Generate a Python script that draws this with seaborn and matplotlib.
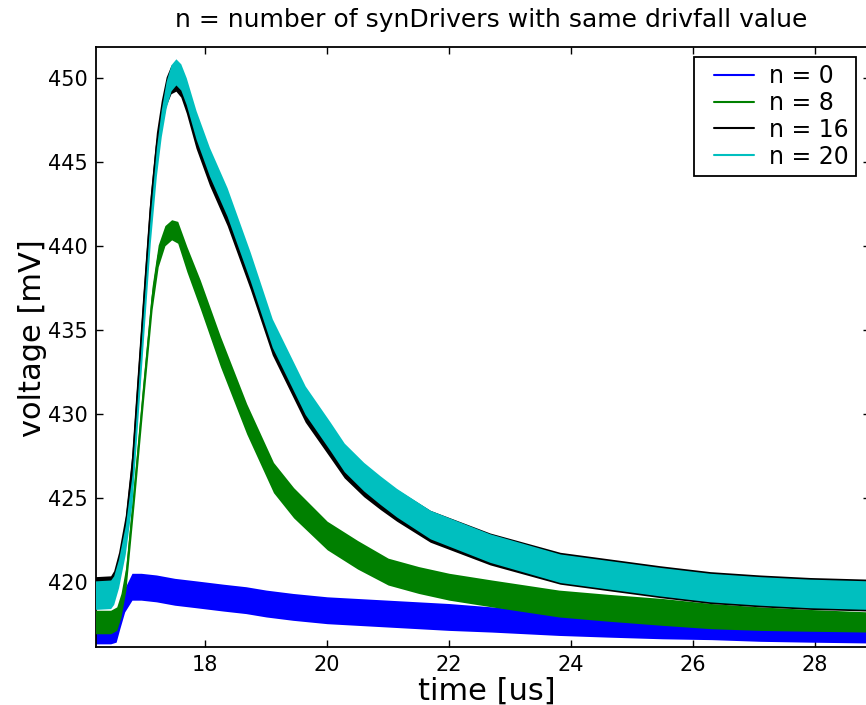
import matplotlib
matplotlib.use("Agg")
import matplotlib.pyplot as plt
from matplotlib.lines import Line2D
from matplotlib.legend_handler import HandlerLine2D
import numpy as np
import pandas as pd
import seaborn as sns

# ---------------- data ----------------
labels = ["n = 0", "n = 8", "n = 16", "n = 20"]
colors = ["#0000ff", "#008000", "#000000", "#00bfbf"]

# n = 0 (blue)
t_n0 = [16.2, 16.45, 16.54, 16.6, 16.68, 16.8, 16.95, 17.2, 17.5, 17.85, 18.3, 18.67,
        19.0, 19.44, 20.0, 20.5, 21.0, 21.5, 22.0, 22.7, 23.8, 24.6, 25.5, 26.3,
        27.1, 27.9, 28.9]
v_n0 = [416.85, 416.85, 416.95, 417.8, 418.9, 419.7, 419.7, 419.6, 419.4, 419.25,
        419.05, 418.9, 418.7, 418.5, 418.3, 418.2, 418.1, 418.0, 417.9, 417.75,
        417.5, 417.4, 417.3, 417.25, 417.15, 417.1, 417.05]
w_n0 = [0.55, 0.55, 0.55, 0.6, 0.7, 0.8, 0.8, 0.8, 0.8, 0.8, 0.8, 0.8,
        0.8, 0.8, 0.8, 0.8, 0.8, 0.8, 0.8, 0.75, 0.7, 0.7, 0.7, 0.7,
        0.7, 0.7, 0.7]

# n = 8 (green)
t_n8 = [16.2, 16.45, 16.55, 16.62, 16.7, 16.74, 16.85, 16.99, 17.13, 17.23, 17.34,
        17.45, 17.55, 17.7, 17.92, 18.25, 18.68, 19.12, 19.45, 20.0, 20.5, 21.0,
        21.5, 22.0, 22.7, 23.8, 24.6, 25.5, 26.3, 27.1, 27.9, 28.9]
v_n8 = [417.6, 417.6, 417.8, 418.6, 420.2, 421.7, 425.9, 431.5, 436.9, 439.4, 440.6,
        440.95, 440.8, 439.2, 437.1, 433.7, 429.7, 426.2, 424.7, 422.75, 421.6, 420.6,
        420.1, 419.7, 419.3, 418.7, 418.45, 418.2, 417.95, 417.8, 417.7, 417.6]
w_n8 = [0.7, 0.7, 0.7, 0.7, 0.7, 0.7, 0.7, 0.7, 0.7, 0.65, 0.6,
        0.6, 0.65, 0.75, 0.85, 0.9, 0.9, 0.9, 0.9, 0.85, 0.85, 0.8,
        0.8, 0.8, 0.8, 0.8, 0.8, 0.8, 0.75, 0.7, 0.65, 0.6]

# n = 16 (black)
t_n16 = [16.2, 16.45, 16.5, 16.58, 16.69, 16.8, 16.9, 17.0, 17.1, 17.2, 17.28, 17.36,
         17.44, 17.52, 17.6, 17.69, 17.85, 18.07, 18.36, 18.74, 19.1, 19.64, 20.05,
         20.28, 20.6, 20.87, 21.14, 21.69, 22.67, 23.82, 24.64, 25.46, 26.28, 27.1,
         27.92, 28.9]
v_n16 = [419.45, 419.5, 419.8, 420.9, 423.1, 426.8, 432.0, 437.2, 442.2, 445.9, 447.8,
         449.2, 449.9, 450.05, 449.7, 448.8, 446.7, 444.5, 442.1, 438.3, 434.4, 430.4,
         428.3, 427.1, 426.0, 425.25, 424.55, 423.3, 421.95, 420.8, 420.4, 420.0,
         419.65, 419.45, 419.3, 419.2]
w_n16 = [0.85, 0.85, 0.85, 0.85, 0.85, 0.85, 0.85, 0.85, 0.85, 0.85, 0.85, 0.85,
         0.85, 0.85, 0.85, 0.9, 0.9, 0.9, 0.9, 0.9, 0.9, 0.9, 0.92,
         0.92, 0.94, 0.95, 0.95, 0.95, 0.95, 0.95, 0.95, 0.95, 0.95, 0.95,
         0.95, 0.95]

# n = 20 (cyan)
t_n20 = [16.2, 16.45, 16.5, 16.58, 16.69, 16.8, 16.9, 17.0, 17.1, 17.2, 17.28, 17.36,
         17.44, 17.52, 17.6, 17.69, 17.85, 18.07, 18.36, 18.74, 19.1, 19.64, 20.05,
         20.28, 20.6, 20.87, 21.14, 21.69, 22.67, 23.82, 24.64, 25.46, 26.28, 27.1,
         27.92, 28.9]
v_n20 = [419.2, 419.25, 419.5, 420.5, 422.5, 425.5, 430.7, 435.9, 441.0, 445.0, 447.3,
         449.0, 450.0, 450.35, 450.05, 449.2, 447.2, 445.0, 442.6, 438.75, 434.8, 430.8,
         428.65, 427.4, 426.25, 425.45, 424.7, 423.4, 422.0, 420.8, 420.4, 420.0,
         419.65, 419.45, 419.3, 419.2]
w_n20 = [0.85, 0.85, 0.85, 0.85, 0.85, 0.85, 0.85, 0.85, 0.85, 0.85, 0.8, 0.8,
         0.78, 0.78, 0.78, 0.8, 0.85, 0.85, 0.85, 0.85, 0.85, 0.85, 0.85,
         0.85, 0.85, 0.85, 0.85, 0.85, 0.85, 0.85, 0.85, 0.85, 0.85, 0.85,
         0.85, 0.85]

x_ticks = [18, 20, 22, 24, 26, 28]
y_ticks = [420, 425, 430, 435, 440, 445, 450]
title = "n = number of synDrivers with same drivfall value"
xlabel = "time [us]"
ylabel = "voltage [mV]"

series = [(t_n0, v_n0, w_n0), (t_n8, v_n8, w_n8), (t_n16, v_n16, w_n16), (t_n20, v_n20, w_n20)]

frames = []
for lab, (t, v, w) in zip(labels, series):
    frames.append(pd.DataFrame({"time": t, "voltage": v, "spread": w, "series": lab}))
df = pd.concat(frames, ignore_index=True)

# ---------------- style ----------------
sns.set_style("white")
plt.rcParams.update({
    "font.family": ["DejaVu Sans"],
    "text.color": "black", "axes.labelcolor": "black",
    "xtick.direction": "in", "ytick.direction": "in",
    "xtick.top": True, "ytick.right": True,
    "xtick.bottom": True, "ytick.left": True,
    "xtick.major.size": 5, "ytick.major.size": 5,
    "xtick.major.width": 1.0, "ytick.major.width": 1.0,
    "xtick.color": "black", "ytick.color": "black",
    "axes.edgecolor": "black", "axes.linewidth": 1.3,
})

fig = plt.figure(figsize=(8.66, 7.05), dpi=100)
ax = fig.add_axes([96 / 866, (705 - 646.7) / 705, (870 - 96) / 866, 600 / 705])

palette = dict(zip(labels, colors))
# centre lines (hidden under the noise bands, used for the legend)
sns.lineplot(data=df, x="time", y="voltage", hue="series", palette=palette,
             hue_order=labels, linewidth=1.0, ax=ax, sort=False, estimator=None,
             zorder=1)
for i, lab in enumerate(labels):
    sub = df[df["series"] == lab]
    ax.fill_between(sub["time"], sub["voltage"] - sub["spread"], sub["voltage"] + sub["spread"],
                    color=colors[i], linewidth=0, zorder=2 + i)

ax.set_xlim(16.21, 28.90)
ax.set_ylim(416.13, 451.85)
ax.set_xticks(x_ticks)
ax.set_yticks(y_ticks)
ax.tick_params(labelsize=15, pad=6)
ax.set_xlabel(xlabel, fontsize=22, labelpad=0)
ax.xaxis.set_label_coords(0.505, -0.05, transform=ax.transAxes)
ax.xaxis.label.set_verticalalignment("top")
ax.set_ylabel(ylabel, fontsize=22, labelpad=1)
ax.yaxis.label.set_y(0.515)
ax.set_title(title, fontsize=18, pad=14, x=0.51)

handles, _ = ax.get_legend_handles_labels()
leg = ax.legend(handles, labels, loc="upper right", bbox_to_anchor=(856 / 866, 1 - 57 / 705),
                bbox_transform=fig.transFigure, borderaxespad=0, fontsize=17,
                frameon=True, fancybox=False, framealpha=1, edgecolor="black",
                labelspacing=0.12, handlelength=2.77, handletextpad=0.1, borderpad=0.3,
                handler_map={Line2D: HandlerLine2D(numpoints=2, marker_pad=0.54)})
leg.get_frame().set_linewidth(1.3)
for lh in leg.get_lines():
    lh.set_linewidth(1.5)

fig.savefig("out.png", dpi=100)
